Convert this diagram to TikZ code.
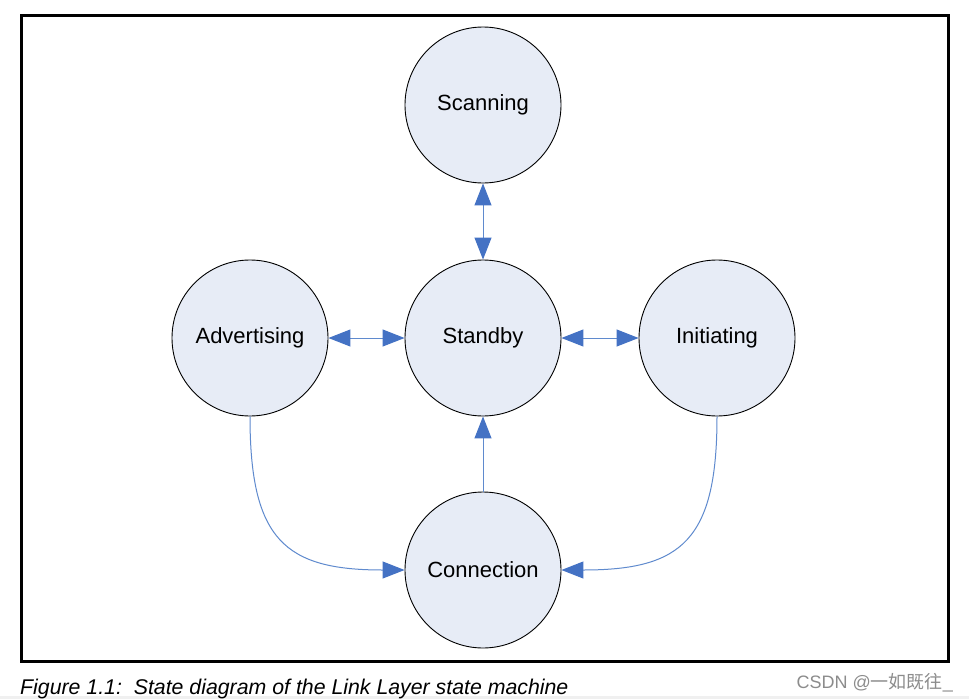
\documentclass[tikz,border=0pt]{standalone}
\usepackage{fontspec}
\setmainfont{Liberation Sans}
\newfontfamily\cjk{Noto Sans CJK SC}
\usetikzlibrary{arrows.meta}
\definecolor{statefill}{RGB}{231,236,246}
\definecolor{arrowblue}{RGB}{68,114,196}
\definecolor{lineblue}{RGB}{95,138,206}
\tikzset{
  state/.style={circle, draw=black, line width=0.9pt, fill=statefill, minimum size=156pt, inner sep=0pt,
    font=\fontsize{22}{26}\selectfont},
  conn/.style={draw=lineblue, line width=1pt, arrows={-Triangle[length=22pt,width=17pt,color=arrowblue]}},
  bconn/.style={draw=lineblue, line width=1pt, arrows={Triangle[length=22pt,width=17pt,color=arrowblue]-Triangle[length=22pt,width=17pt,color=arrowblue]}},
}
\begin{document}
\begin{tikzpicture}[x=1pt,y=-1pt]
\useasboundingbox (0,0) rectangle (969,699);
\fill[white] (0,0) rectangle (969,699);
\fill[black!6] (0,696) rectangle (969,699);
\draw[line width=3pt] (21,15) rectangle (948,661);
\node[state] (scan) at (483,105) {Scanning};
\node[state] (stby) at (483,338) {Standby};
\node[state] (adv) at (250,338) {Advertising};
\node[state] (init) at (717,338) {Initiating};
\node[state] (conn) at (483,570) {Connection};
\draw[bconn] (scan) -- (stby);
\draw[bconn] (adv) -- (stby);
\draw[bconn] (stby) -- (init);
\draw[conn] (conn) -- (stby);
\draw[conn] (adv.south) .. controls (250,540) and (285,570) .. (conn.west);
\draw[conn] (init.south) .. controls (717,540) and (682,570) .. (conn.east);
\node[anchor=base west, inner sep=0pt, font=\fontsize{21.3}{24}\selectfont\itshape] (cap) at (20,694) {Figure 1.1:\ \ State diagram of the Link Layer state machine};
\node[anchor=base east, inner sep=0pt, text=black!45, font=\fontsize{18}{20}\selectfont] (wm) at (953,688) {CSDN @{\cjk 一如既往}\_};
\end{tikzpicture}
\end{document}
